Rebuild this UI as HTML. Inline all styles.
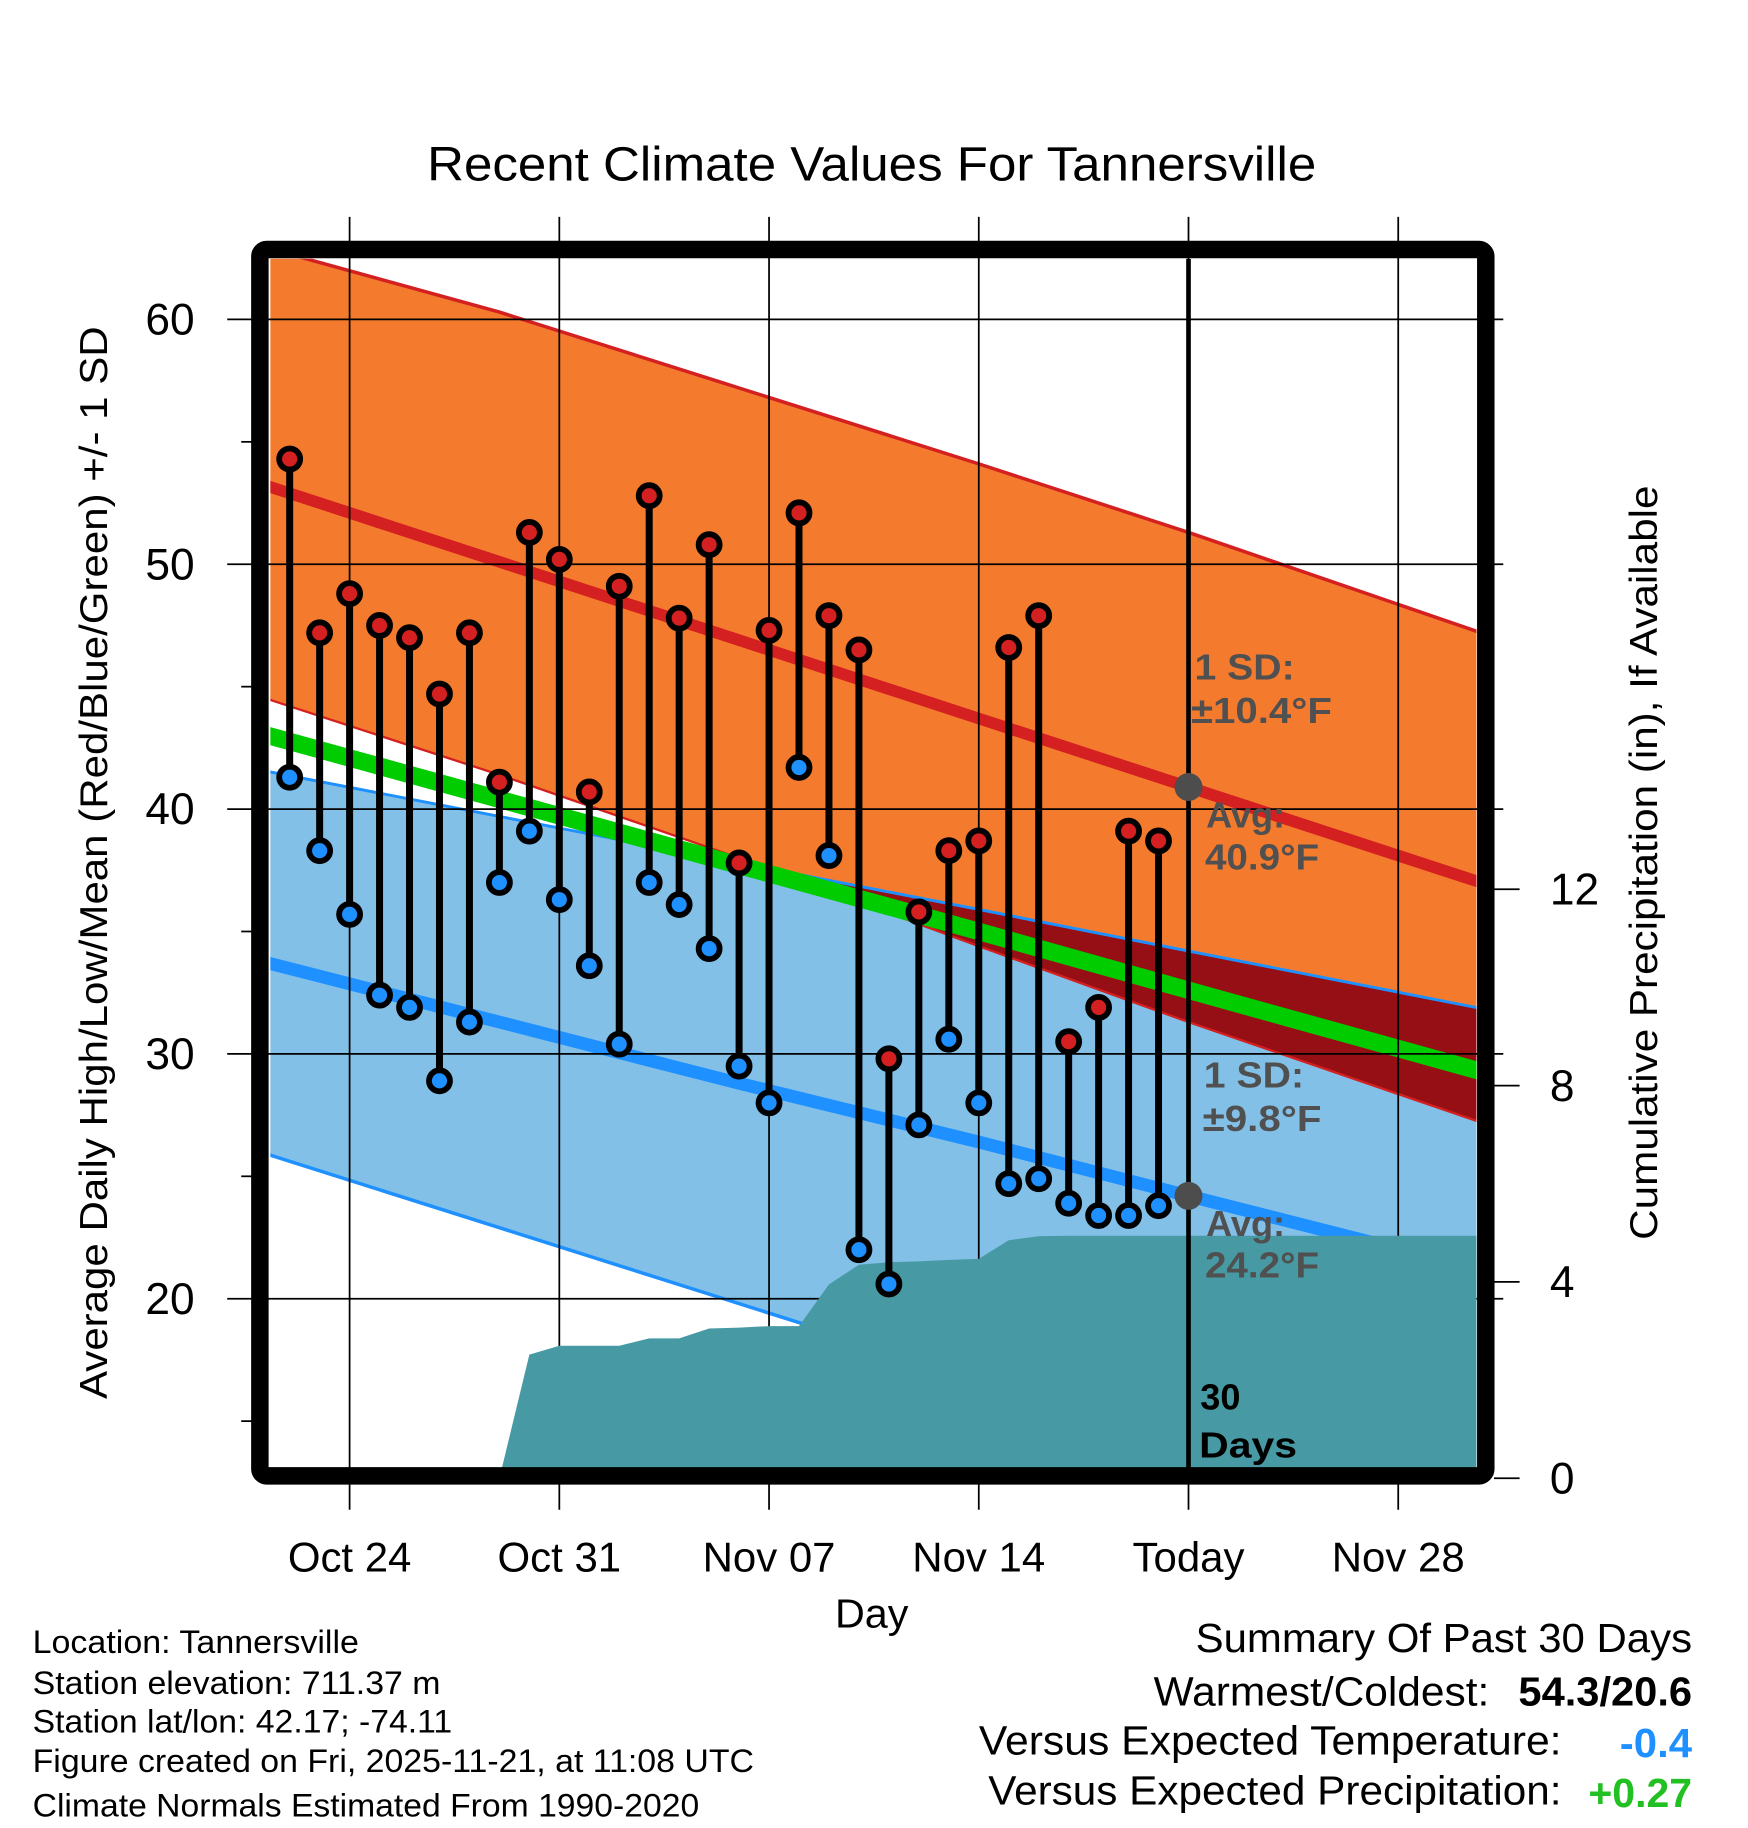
<!DOCTYPE html>
<html><head><meta charset="utf-8"><style>
html,body{margin:0;padding:0;background:#fff}
svg{display:block}
text{font-family:"Liberation Sans",sans-serif}
</style></head><body>
<svg id="chart" width="1748" height="1828" viewBox="0 0 1500 1568" preserveAspectRatio="none" xmlns="http://www.w3.org/2000/svg">
<defs>
<clipPath id="plotClip"><rect x="232" y="222" width="1035" height="1037"/></clipPath>
</defs>
<rect width="1500" height="1568" fill="#fff"/>
<text x="748" y="155" font-size="41" text-anchor="middle" textLength="763" lengthAdjust="spacingAndGlyphs">Recent Climate Values For Tannersville</text>
<g id="bands" clip-path="url(#plotClip)"></g>
<g id="grid"></g>
<g id="overlay" clip-path="url(#plotClip)"></g>
<g id="marks"></g>
<rect x="223" y="214" width="1052" height="1052" rx="6" fill="none" stroke="#000" stroke-width="15"/>
<g id="axes"></g>
<g font-weight="bold" font-size="31" fill="#505050">
<text x="1025" y="583" textLength="86" lengthAdjust="spacingAndGlyphs">1 SD:</text><text x="1022" y="620" textLength="121" lengthAdjust="spacingAndGlyphs">±10.4°F</text>
<text x="1035" y="710">Avg:</text><text x="1034" y="746" textLength="98" lengthAdjust="spacingAndGlyphs">40.9°F</text>
<text x="1033" y="933" textLength="86" lengthAdjust="spacingAndGlyphs">1 SD:</text><text x="1032" y="970" textLength="102" lengthAdjust="spacingAndGlyphs">±9.8°F</text>
<text x="1035" y="1060">Avg:</text><text x="1034" y="1096" textLength="98" lengthAdjust="spacingAndGlyphs">24.2°F</text>
<text x="1030" y="1209" fill="#000">30</text><text x="1029" y="1250" fill="#000" textLength="84" lengthAdjust="spacingAndGlyphs">Days</text>
</g>
<text x="748" y="1396" font-size="35" text-anchor="middle" textLength="63" lengthAdjust="spacingAndGlyphs">Day</text>
<text transform="translate(92,740) rotate(-90)" font-size="33" text-anchor="middle" textLength="920" lengthAdjust="spacingAndGlyphs">Average Daily High/Low/Mean (Red/Blue/Green) +/- 1 SD</text>
<text transform="translate(1422,740) rotate(-90)" font-size="33" text-anchor="middle" textLength="647" lengthAdjust="spacingAndGlyphs">Cumulative Precipitation (in), If Available</text>
<g font-size="28" lengthAdjust="spacingAndGlyphs">
<text x="28" y="1418" textLength="280" lengthAdjust="spacingAndGlyphs">Location: Tannersville</text>
<text x="28" y="1453" textLength="350" lengthAdjust="spacingAndGlyphs">Station elevation: 711.37 m</text>
<text x="28" y="1486" textLength="360" lengthAdjust="spacingAndGlyphs">Station lat/lon: 42.17; -74.11</text>
<text x="28" y="1520" textLength="619" lengthAdjust="spacingAndGlyphs">Figure created on Fri, 2025-11-21, at 11:08 UTC</text>
<text x="28" y="1558" textLength="572" lengthAdjust="spacingAndGlyphs">Climate Normals Estimated From 1990-2020</text>
</g>
<g font-size="35">
<text x="1026" y="1417" textLength="426" lengthAdjust="spacingAndGlyphs">Summary Of Past 30 Days</text>
<text x="990" y="1463" textLength="288" lengthAdjust="spacingAndGlyphs">Warmest/Coldest:</text>
<text x="1303" y="1463" font-weight="bold" textLength="149" lengthAdjust="spacingAndGlyphs">54.3/20.6</text>
<text x="840" y="1505" textLength="500" lengthAdjust="spacingAndGlyphs">Versus Expected Temperature:</text>
<text x="1390" y="1507" font-weight="bold" fill="#1e90ff" textLength="62" lengthAdjust="spacingAndGlyphs">-0.4</text>
<text x="848" y="1548" textLength="492" lengthAdjust="spacingAndGlyphs">Versus Expected Precipitation:</text>
<text x="1363" y="1550" font-weight="bold" fill="#22c022" textLength="89" lengthAdjust="spacingAndGlyphs">+0.27</text>
</g>
</svg>
<script>
// ---- data ----
const dayLabels = ["Oct 22","Oct 23","Oct 24","Oct 25","Oct 26","Oct 27","Oct 28","Oct 29","Oct 30","Oct 31","Nov 01","Nov 02","Nov 03","Nov 04","Nov 05","Nov 06","Nov 07","Nov 08","Nov 09","Nov 10","Nov 11","Nov 12","Nov 13","Nov 14","Nov 15","Nov 16","Nov 17","Nov 18","Nov 19","Nov 20"];
const highs = [54.3,47.2,48.8,47.5,47.0,44.7,47.2,41.1,51.3,50.2,40.7,49.1,52.8,47.8,50.8,37.8,47.3,52.1,47.9,46.5,29.8,35.8,38.3,38.7,46.6,47.9,30.5,31.9,39.1,38.7];
const lows = [41.3,38.3,35.7,32.4,31.9,28.9,31.3,37.0,39.1,36.3,33.6,30.4,37.0,36.1,34.3,29.5,28.0,41.7,38.1,22.0,20.6,27.1,30.6,28.0,24.7,24.9,23.9,23.4,23.4,23.8];
const precip = [0,0,0,0,0,0,0,0,2.52,2.70,2.70,2.70,2.85,2.85,3.05,3.07,3.10,3.10,3.95,4.35,4.40,4.42,4.45,4.47,4.85,4.93,4.94,4.94,4.94,4.94];
const normDays = [-3,5,13,21,28,38];
const normHigh = [53.3,50.1,46.9,43.7,40.9,36.9];
const normHighUp = [63.0,60.3,57.2,54.1,51.3,47.1];
const normHighLo = [44.6,41.4,38.0,34.4,31.3,27.1];
const normLow = [33.8,31.3,28.8,26.4,24.2,21.1];
const normLowUp = [41.6,39.7,37.8,35.9,34.2,31.8];
const normLowLo = [26.0,22.9,19.8,16.7,14.2,10.3];
const normMean = [43.1,40.4,37.7,35.0,32.6,29.2];
const xTickDays = [0,7,14,21,28,35];
const xTickLabels = ["Oct 24","Oct 31","Nov 07","Nov 14","Today","Nov 28"];
const yTicks = [20,30,40,50,60];
const yMinor = [15,25,35,45,55];
const pTicks = [0,4,8,12];
const firstDay = -2; // Oct 22 relative to Oct 24
const todayDay = 28;
const todayHigh = 40.9, todayLow = 24.2;

// ---- axes ----
const X = d => 300 + d * 25.71;
const Y = v => 274 + (60 - v) * 21;
const P = p => 1268 - p * 42.1;
const NS = "http://www.w3.org/2000/svg";
function mk(parent, tag, attrs){const e=document.createElementNS(NS,tag);for(const k in attrs)e.setAttribute(k,attrs[k]);parent.appendChild(e);return e;}
const bands=document.getElementById('bands'), grid=document.getElementById('grid'), overlay=document.getElementById('overlay'), marks=document.getElementById('marks'), axes=document.getElementById('axes');

function band(up, lo){
  let pts = normDays.map((d,i)=>X(d)+','+Y(up[i]));
  pts = pts.concat(normDays.map((d,i)=>X(d)+','+Y(lo[i])).reverse());
  return pts.join(' ');
}
function line(arr){return normDays.map((d,i)=>X(d)+','+Y(arr[i])).join(' ');}

const orange = mk(bands,'polygon',{points:band(normHighUp,normHighLo),fill:'#f47b2e'});


const blue = mk(bands,'polygon',{points:band(normLowUp,normLowLo),fill:'#82c0e8'});


const cp = mk(bands,'clipPath',{id:'overlapClip'});
mk(cp,'polygon',{points:band(normHighUp,normHighLo)});
const dark = mk(bands,'polygon',{points:band(normLowUp,normLowLo),fill:'#960f14','clip-path':'url(#overlapClip)'});


[[normHighUp,'#d42020',3],[normHighLo,'#d42020',2],[normLowUp,'#1e90ff',2.5],[normLowLo,'#1e90ff',3]].forEach(([a,c,w])=>{
  const l=mk(bands,'polyline',{points:line(a),fill:'none',stroke:c,'stroke-width':w});
  
  
});
const hl = mk(bands,'polyline',{points:line(normHigh),fill:'none',stroke:'#d42020','stroke-width':10});


const ll = mk(bands,'polyline',{points:line(normLow),fill:'none',stroke:'#1e90ff','stroke-width':11});


const ml = mk(bands,'polyline',{points:line(normMean),fill:'none',stroke:'#00cc00','stroke-width':15});



// grid
yTicks.forEach(v=>{
  const g=mk(grid,'line',{x1:195,x2:1290,y1:Y(v),y2:Y(v),stroke:'#000','stroke-width':1.5});
  
  
  const t=mk(axes,'text',{x:167,y:Y(v)+13,'font-size':38,'text-anchor':'end'});
  t.textContent=v;
  
  
});
yMinor.forEach(v=>{
  const g=mk(axes,'line',{x1:207,x2:216,y1:Y(v),y2:Y(v),stroke:'#000','stroke-width':1.5});
  
  
});
xTickDays.forEach((d,i)=>{
  const g=mk(grid,'line',{x1:X(d),x2:X(d),y1:186,y2:1295,stroke:'#000','stroke-width':1.5});
  
  
  const t=mk(axes,'text',{x:X(d),y:1348,'font-size':36,'text-anchor':'middle'});
  t.textContent=xTickLabels[i];
  
  
});
pTicks.forEach(p=>{
  const g=mk(axes,'line',{x1:1282,x2:1304,y1:P(p),y2:P(p),stroke:'#000','stroke-width':1.5});
  
  
  const t=mk(axes,'text',{x:1330,y:P(p)+13,'font-size':38});
  t.textContent=p;
  
  
});

// precipitation area
let startIdx = precip.findIndex(v=>v>0)-1;
let pp = [X(firstDay+startIdx)+','+P(0)];
for(let i=startIdx;i<precip.length;i++) pp.push(X(firstDay+i)+','+P(precip[i]));
pp.push('1267,'+P(precip[precip.length-1]));
pp.push('1267,'+P(0));
const parea = mk(overlay,'polygon',{points:pp.join(' '),fill:'#479aa3'});


const tl = mk(overlay,'line',{x1:X(todayDay),x2:X(todayDay),y1:222,y2:1262,stroke:'#000','stroke-width':4});


[todayHigh,todayLow].forEach(v=>{
  const c=mk(overlay,'circle',{cx:X(todayDay),cy:Y(v),r:12,fill:'#4d4d4d'});
  
  
});

// daily marks
highs.forEach((h,i)=>{
  const x=X(firstDay+i);
  const s=mk(marks,'line',{x1:x,x2:x,y1:Y(h),y2:Y(lows[i]),stroke:'#000','stroke-width':6});
  
  
  const ch=mk(marks,'circle',{cx:x,cy:Y(h),r:9,fill:'#d42020',stroke:'#000','stroke-width':5});
  
  
  const cl=mk(marks,'circle',{cx:x,cy:Y(lows[i]),r:9,fill:'#1e90ff',stroke:'#000','stroke-width':5});
  
  
});
</script>
</body></html>
